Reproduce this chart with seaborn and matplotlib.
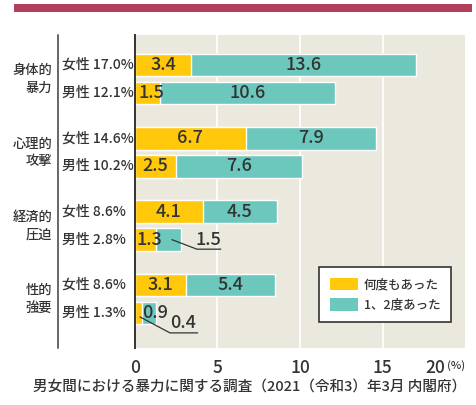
import numpy as np
import pandas as pd
import matplotlib
matplotlib.use("Agg")
import matplotlib.pyplot as plt
import seaborn as sns
from matplotlib.patches import Patch, Rectangle
from matplotlib.lines import Line2D
import matplotlib.transforms as mtransforms

# data
categories = ["身体的\n暴力", "心理的\n攻撃", "経済的\n圧迫", "性的\n強要"]
row_labels = ["女性 17.0%", "男性 12.1%", "女性 14.6%", "男性 10.2%",
              "女性 8.6%", "男性 2.8%", "女性 8.6%", "男性 1.3%"]
many_times = [3.4, 1.5, 6.7, 2.5, 4.1, 1.3, 3.1, 0.4]
once_twice = [13.6, 10.6, 7.9, 7.6, 4.5, 1.5, 5.4, 0.9]
legend_labels = ["何度もあった", "1、2度あった"]
x_ticks = [0, 5, 10, 15, 20]
source = "男女間における暴力に関する調査（2021（令和3）年3月 内閣府）"

YELLOW = "#ffc80a"
TEAL = "#6cc8bd"
BG = "#ebe8dd"
TXT = "#333333"

sns.set_style("white")
plt.rcParams['font.family'] = ['Noto Sans CJK JP', 'DejaVu Sans']
plt.rcParams['font.weight'] = 500

group_step = 2.62
pos = []
for g in range(len(categories)):
    pos += [g * group_step, g * group_step + 1]

df = pd.DataFrame({
    "pos": pos,
    "label": row_labels,
    "a": many_times,
    "b": once_twice,
})
df["total"] = df["a"] + df["b"]

fig = plt.figure(figsize=(4.77, 4.05), dpi=100)
ax = fig.add_axes([135 / 477, 57 / 405, 330 / 477, 313 / 405])
ax.set_facecolor(BG)

sns.barplot(data=df, x="total", y="pos", orient="h", native_scale=True,
            color=TEAL, saturation=1, width=0.8, edgecolor="white",
            linewidth=1, ax=ax)
sns.barplot(data=df, x="a", y="pos", orient="h", native_scale=True,
            color=YELLOW, saturation=1, width=0.8, edgecolor="white",
            linewidth=1, ax=ax)

ax.set_xlim(0, 20)
ax.set_ylim(pos[-1] + 1.25, -1.07)
ax.set_xticks(x_ticks)
ax.set_xticklabels([str(t) for t in x_ticks], fontsize=12.5, color=TXT)
ax.tick_params(axis="x", length=0, pad=8)
last = ax.get_xticklabels()[-1]
last.set_horizontalalignment("right")
last.set_transform(last.get_transform() + mtransforms.ScaledTranslation(
    -20 / 100, 0, fig.dpi_scale_trans))
ax.set_yticks([])
ax.set_xlabel("")
ax.set_ylabel("")
for t in x_ticks[1:4]:
    ax.axvline(t, color="white", lw=1.3, zorder=0)
for s in ["top", "right", "bottom"]:
    ax.spines[s].set_visible(False)
ax.spines["left"].set_color("#333333")
ax.spines["left"].set_linewidth(1.4)
ax.set_axisbelow(True)

# value labels inside bars
for i, r in df.iterrows():
    y = r["pos"]
    if i == 7:
        continue
    ax.text(r["a"] / 2 + (0.22 if r["a"] < 2 else 0), y, f"{r['a']:.1f}",
            ha="center", va="center", fontsize=13, color=TXT)
    if i == 5:
        continue
    ax.text(r["a"] + r["b"] / 2, y, f"{r['b']:.1f}",
            ha="center", va="center", fontsize=13, color=TXT)

# callouts for the small segments
y5 = df["pos"][5]
ax.text(4.48, y5, f"{once_twice[5]:.1f}", ha="center", va="center", fontsize=13, color=TXT)
ax.plot([2.24, 3.75, 5.2], [y5, y5 + 0.34, y5 + 0.34], color=TXT, lw=0.9)
y7 = df["pos"][7]
ax.text(0.45, y7, f"{once_twice[7]:.1f}", ha="left", va="center", fontsize=13, color=TXT)
ax.text(2.9, y7 + 0.36, f"{many_times[7]:.1f}", ha="center", va="center", fontsize=13, color=TXT)
ax.plot([0.3, 2.12, 3.8], [y7 + 0.14, y7 + 0.71, y7 + 0.71], color=TXT, lw=0.9)

# row labels and category labels
for i, r in df.iterrows():
    ax.text(-73 / 16.5, r["pos"], r["label"], ha="left", va="center",
            fontsize=10, color=TXT, clip_on=False)
for g, c in enumerate(categories):
    ax.text(-83 / 16.5, g * group_step + 0.5, c, ha="right", va="center",
            fontsize=9.5, color=TXT, linespacing=1.35, clip_on=False)

# left separator and top band
fig.add_artist(Line2D([58 / 477, 58 / 477], [57 / 405, 370 / 405],
                      color="#666666", lw=1.4))
fig.add_artist(Rectangle((14 / 477, 1 - 12 / 405), 458 / 477, 8 / 405,
                         color="#b0405c", lw=0))

fig.text(456 / 477, 1 - 366 / 405, "(%)", fontsize=8, color=TXT,
         ha="center", va="center")
fig.text(250 / 477, 1 - 387 / 405, source, fontsize=10.5, color=TXT,
         ha="center", va="center")

handles = [Patch(facecolor=YELLOW, edgecolor="none"),
           Patch(facecolor=TEAL, edgecolor="none")]
leg = ax.legend(handles, legend_labels, loc="upper left",
                bbox_to_anchor=(319 / 477, 1 - 267 / 405),
                bbox_transform=fig.transFigure, fontsize=9,
                frameon=True, fancybox=False, borderaxespad=0,
                handlelength=2.24, handleheight=1.2, borderpad=0.85,
                labelspacing=0.55, handletextpad=0.5)
leg.get_frame().set_edgecolor("#333333")
leg.get_frame().set_linewidth(1.2)
leg.get_frame().set_facecolor("white")
leg.get_frame().set_alpha(1)
for t in leg.get_texts():
    t.set_color(TXT)

fig.savefig("out.png", dpi=100)
